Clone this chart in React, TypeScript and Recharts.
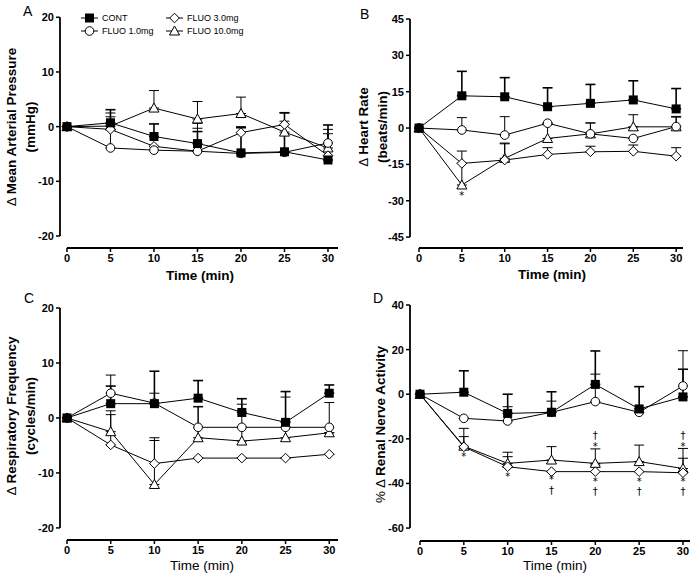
import React from "react";
import {
  ComposedChart,
  Line,
  XAxis,
  YAxis,
  ErrorBar,
  ReferenceLine,
  ReferenceDot,
} from "recharts";

const FONT = '"Liberation Sans", Arial, Helvetica, sans-serif';

const times = [0, 5, 10, 15, 20, 25, 30];

// A: mean arterial pressure (mmHg)
const mapCont = [0, 0.7, -1.8, -3.1, -4.8, -4.6, -6.1];
const mapContErr = [0, 2.4, 2.3, 2.2, 4.6, 7.1, 6.4];
const mapF1 = [0, -3.9, -4.3, -4.5, -4.9, -4.7, -3.0];
const mapF1Err = [0, 5.7, 0, 4.2, 0, 0, 2.5];
const mapF3 = [0, -0.5, -3.6, -4.5, -1.1, 0.4, -5.3];
const mapF3Err = [0, 1.0, 0, 5.1, 1.1, 2.2, 0];
const mapF10 = [0, 0.1, 3.4, 1.4, 2.4, -1.0, -3.9];
const mapF10Err = [0, 2.4, 3.2, 3.2, 3.0, 2.0, 2.6];

// B: heart rate (beats/min)
const hrCont = [0, 13.3, 12.9, 8.8, 10.2, 11.6, 7.9];
const hrContErr = [0, 10.1, 7.9, 7.8, 7.8, 7.9, 8.4];
const hrF1 = [0, -0.8, -2.9, 2.0, -2.4, -4.3, 0.6];
const hrF1Err = [0, 5.1, 7.6, 0, 4.5, 0, 4.2];
const hrF3 = [0, -14.6, -13.2, -10.9, -9.8, -9.6, -11.6];
const hrF3Err = [0, 5.1, 7.0, 2.8, 2.3, 2.6, 3.5];
const hrF10 = [0, -23.5, -12.5, -4.3, -2.4, 0.5, 0.5];
const hrF10Err = [0, 9.0, 6.0, 6.0, 4.5, 5.0, 4.0];

// C: respiratory frequency (cycles/min)
const rfCont = [0, 2.6, 2.6, 3.6, 1.0, -0.8, 4.5];
const rfContErr = [0, 3.2, 5.9, 3.2, 2.5, 5.6, 1.5];
const rfF1 = [0, 4.5, 2.7, -1.7, -1.7, -1.7, -1.7];
const rfF1Err = [0, 3.3, 1.8, 3.7, 4.2, 5.5, 4.5];
const rfF3 = [0, -4.9, -8.3, -7.3, -7.3, -7.3, -6.6];
const rfF3Err = [0, 5.5, 4.7, 0, 0, 0, 0];
const rfF10 = [0, -2.5, -12.1, -3.6, -4.2, -3.6, -2.7];
const rfF10Err = [0, 3.8, 8.0, 5.7, 2.5, 3.0, 0];

// D: renal nerve activity (%)
const rnCont = [0, 0.9, -8.6, -8.1, 4.4, -6.6, -1.2];
const rnContErr = [0, 9.6, 8.6, 9.2, 15.0, 10.0, 12.4];
const rnF1 = [0, -10.8, -12.0, -8.1, -3.3, -8.1, 3.7];
const rnF1Err = [0, 0, 6.4, 5.0, 12.3, 0, 15.8];
const rnF3 = [0, -23.6, -32.5, -34.7, -34.7, -34.7, -35.2];
const rnF3Err = [0, 4.6, 4.5, 0, 3.0, 0, 6.5];
const rnF10 = [0, -23.3, -31.0, -29.5, -31.0, -30.2, -33.3];
const rnF10Err = [0, 8.0, 5.0, 6.0, 6.5, 7.4, 9.0];

// significance marks
const hrMarks = [{ time: 5, y: -28, text: "*" }];
const rnMarks = [
  { time: 5, y: -27.7, text: "*" },
  { time: 10, y: -37.1, text: "*" },
  { time: 15, y: -38.4, text: "*" },
  { time: 15, y: -43.2, text: "†" },
  { time: 20, y: -18.6, text: "†" },
  { time: 20, y: -23.6, text: "*" },
  { time: 20, y: -39.3, text: "*" },
  { time: 20, y: -43.7, text: "†" },
  { time: 25, y: -39.3, text: "*" },
  { time: 25, y: -43.7, text: "†" },
  { time: 30, y: -18.4, text: "†" },
  { time: 30, y: -23.6, text: "*" },
  { time: 30, y: -39.3, text: "*" },
  { time: 30, y: -43.7, text: "†" },
];

type Kind = "square" | "circle" | "diamond" | "triangle";

function Marker({ cx, cy, kind }: { cx?: number; cy?: number; kind: Kind }) {
  if (cx == null || cy == null) return null;
  if (kind === "square")
    return <rect x={cx - 4.5} y={cy - 4.5} width={9} height={9} fill="#000" />;
  if (kind === "circle")
    return <circle cx={cx} cy={cy} r={4.3} fill="#fff" stroke="#000" strokeWidth={1} />;
  if (kind === "diamond")
    return (
      <polygon
        points={`${cx},${cy - 4.8} ${cx + 4.8},${cy} ${cx},${cy + 4.8} ${cx - 4.8},${cy}`}
        fill="#fff"
        stroke="#000"
        strokeWidth={1}
      />
    );
  return (
    <polygon
      points={`${cx},${cy - 5} ${cx + 5},${cy + 4} ${cx - 5},${cy + 4}`}
      fill="#fff"
      stroke="#000"
      strokeWidth={1}
    />
  );
}

interface Series {
  key: string;
  kind: Kind;
  values: number[];
  errs: number[];
}

function makeSeries(c: number[], ce: number[], f1: number[], f1e: number[], f3: number[], f3e: number[], f10: number[], f10e: number[]): Series[] {
  return [
    { key: "f10", kind: "triangle", values: f10, errs: f10e },
    { key: "f3", kind: "diamond", values: f3, errs: f3e },
    { key: "f1", kind: "circle", values: f1, errs: f1e },
    { key: "cont", kind: "square", values: c, errs: ce },
  ];
}

interface PanelProps {
  left: number;
  top: number;
  height: number;
  margin: { top: number; right: number; bottom: number; left: number };
  xDomain: [number, number];
  yDomain: [number, number];
  yTicks: number[];
  series: Series[];
  marks?: { time: number; y: number; text: string }[];
}

function Panel({ left, top, height, margin, xDomain, yDomain, yTicks, series, marks = [] }: PanelProps) {
  const data = times.map((t, i) => {
    const row: Record<string, unknown> = { time: t };
    series.forEach((s) => {
      row[s.key] = s.values[i];
      row[s.key + "_e"] = [0, s.errs[i]];
    });
    return row;
  });
  const tickStyle = { fill: "#000", fontSize: 11, fontWeight: "bold", fontFamily: FONT };
  return (
    <div style={{ position: "absolute", left, top }}>
      <ComposedChart width={350} height={height} data={data} margin={margin}>
        <XAxis
          type="number"
          dataKey="time"
          domain={xDomain}
          ticks={times}
          axisLine={false}
          tickSize={4}
          tickLine={{ stroke: "#000", strokeWidth: 1.5 }}
          tick={tickStyle}
          allowDataOverflow
        />
        <YAxis
          type="number"
          domain={yDomain}
          ticks={yTicks}
          width={30}
          axisLine={false}
          tickSize={4}
          tickLine={{ stroke: "#000", strokeWidth: 1.5 }}
          tick={tickStyle}
          allowDataOverflow
        />
        <ReferenceLine
          segment={[
            { x: xDomain[0], y: yTicks[0] },
            { x: xDomain[0], y: yTicks[yTicks.length - 1] },
          ]}
          stroke="#000"
          strokeWidth={1.8}
          ifOverflow="visible"
        />
        <ReferenceLine
          segment={[
            { x: 0, y: yDomain[0] },
            { x: xDomain[1], y: yDomain[0] },
          ]}
          stroke="#000"
          strokeWidth={1.8}
          ifOverflow="visible"
        />
        {series.map((s) => (
          <Line
            key={s.key}
            dataKey={s.key}
            stroke="#000"
            strokeWidth={1}
            activeDot={false}
            isAnimationActive={false}
            dot={(p: any) => (
              <Marker key={`${s.key}-${p.index}`} cx={p.cx} cy={p.cy} kind={s.kind} />
            )}
          >
            <ErrorBar
              dataKey={s.key + "_e"}
              direction="y"
              width={5}
              stroke="#000"
              strokeWidth={s.kind === "square" ? 1.6 : 1}
              isAnimationActive={false}
            />
          </Line>
        ))}
        {marks.map((m, i) => (
          <ReferenceDot
            key={i}
            x={m.time}
            y={m.y}
            r={0}
            ifOverflow="visible"
            shape={(p: any) => (
              <text
                x={p.cx}
                y={p.cy}
                textAnchor="middle"
                dominantBaseline="central"
                fontSize={10}
                fontFamily='"DejaVu Sans", sans-serif'
                fill="#000"
              >
                {m.text}
              </text>
            )}
          />
        ))}
      </ComposedChart>
    </div>
  );
}

function VTitle({ cx, cy, lines, len }: { cx: number; cy: number; lines: [string, string][]; len: number }) {
  const h = lines.length * 19;
  return (
    <div
      style={{
        position: "absolute",
        left: cx - len / 2,
        top: cy - h / 2,
        width: len,
        height: h,
        transform: "rotate(-90deg)",
        textAlign: "center",
        fontFamily: FONT,
        fontWeight: "bold",
        fontSize: 13.5,
        lineHeight: "19px",
        whiteSpace: "nowrap",
      }}
    >
      {lines.map(([pre, txt], i) => (
        <div key={i}>
          {pre && <span style={{ fontWeight: "normal" }}>{pre}</span>}
          {txt}
        </div>
      ))}
    </div>
  );
}

function XTitle({ cx, cy, bold }: { cx: number; cy: number; bold: boolean }) {
  return (
    <div
      style={{
        position: "absolute",
        left: cx - 60,
        top: cy - 9,
        width: 120,
        height: 18,
        lineHeight: "18px",
        textAlign: "center",
        fontFamily: FONT,
        fontWeight: bold ? "bold" : "normal",
        fontSize: 13.5,
      }}
    >
      Time (min)
    </div>
  );
}

function Letter({ x, y, text }: { x: number; y: number; text: string }) {
  return (
    <div style={{ position: "absolute", left: x, top: y, fontFamily: FONT, fontSize: 14, lineHeight: "14px" }}>
      {text}
    </div>
  );
}

const legendItems: { label: string; kind: Kind; x: number; y: number }[] = [
  { label: "CONT", kind: "square", x: 81, y: 18 },
  { label: "FLUO 3.0mg", kind: "diamond", x: 166, y: 18 },
  { label: "FLUO 1.0mg", kind: "circle", x: 81, y: 31 },
  { label: "FLUO 10.0mg", kind: "triangle", x: 166, y: 31 },
];

function MapLegend() {
  return (
    <svg width={350} height={40} style={{ position: "absolute", left: 0, top: 0 }}>
      {legendItems.map((it) => (
        <g key={it.label}>
          <line x1={it.x} x2={it.x + 17} y1={it.y} y2={it.y} stroke="#000" strokeWidth={1} />
          <Marker cx={it.x + 8.5} cy={it.y} kind={it.kind} />
          <text x={it.x + 21} y={it.y} dominantBaseline="central" fontSize={9} fontFamily={FONT} fill="#000">
            {it.label}
          </text>
        </g>
      ))}
    </svg>
  );
}

export default function App() {
  return (
    <div style={{ position: "relative", width: 700, height: 576, background: "#fff", overflow: "hidden" }}>
      <style>{`body{margin:0}`}</style>
      <Panel
        left={0}
        top={0}
        height={290}
        margin={{ top: 17.3, right: 12, bottom: 12, left: 30 }}
        xDomain={[-0.8, 31.15]}
        yDomain={[-22.2, 20]}
        yTicks={[-20, -10, 0, 10, 20]}
        series={makeSeries(mapCont, mapContErr, mapF1, mapF1Err, mapF3, mapF3Err, mapF10, mapF10Err)}
      />
      <Panel
        left={350}
        top={0}
        height={290}
        margin={{ top: 19, right: 17, bottom: 12, left: 30 }}
        xDomain={[-1.05, 30.8]}
        yDomain={[-49.5, 45]}
        yTicks={[-45, -30, -15, 0, 15, 30, 45]}
        series={makeSeries(hrCont, hrContErr, hrF1, hrF1Err, hrF3, hrF3Err, hrF10, hrF10Err)}
        marks={hrMarks}
      />
      <Panel
        left={0}
        top={290}
        height={286}
        margin={{ top: 18, right: 12, bottom: 6, left: 30 }}
        xDomain={[-0.8, 31]}
        yDomain={[-22.2, 20]}
        yTicks={[-20, -10, 0, 10, 20]}
        series={makeSeries(rfCont, rfContErr, rfF1, rfF1Err, rfF3, rfF3Err, rfF10, rfF10Err)}
      />
      <Panel
        left={350}
        top={290}
        height={286}
        margin={{ top: 15, right: 10, bottom: 5, left: 30 }}
        xDomain={[-1.14, 30.8]}
        yDomain={[-65.8, 40]}
        yTicks={[-60, -40, -20, 0, 20, 40]}
        series={makeSeries(rnCont, rnContErr, rnF1, rnF1Err, rnF3, rnF3Err, rnF10, rnF10Err)}
        marks={rnMarks}
      />
      <MapLegend />
      <VTitle cx={21} cy={127} len={240} lines={[["Δ ", "Mean Arterial Pressure"], ["", "(mmHg)"]]} />
      <VTitle cx={373} cy={127} len={240} lines={[["Δ ", " Heart Rate"], ["", "(beats/min)"]]} />
      <VTitle cx={21} cy={416} len={240} lines={[["Δ ", "Respiratory Frequency"], ["", "(cycles/min)"]]} />
      <VTitle cx={380} cy={424} len={240} lines={[["% Δ ", " Renal Nerve Activity"]]} />
      <XTitle cx={200} cy={276} bold />
      <XTitle cx={552} cy={275} bold />
      <XTitle cx={202} cy={566} bold={false} />
      <XTitle cx={555} cy={566} bold={false} />
      <Letter x={23} y={4} text="A" />
      <Letter x={360} y={7} text="B" />
      <Letter x={24} y={291} text="C" />
      <Letter x={373} y={291} text="D" />
    </div>
  );
}
